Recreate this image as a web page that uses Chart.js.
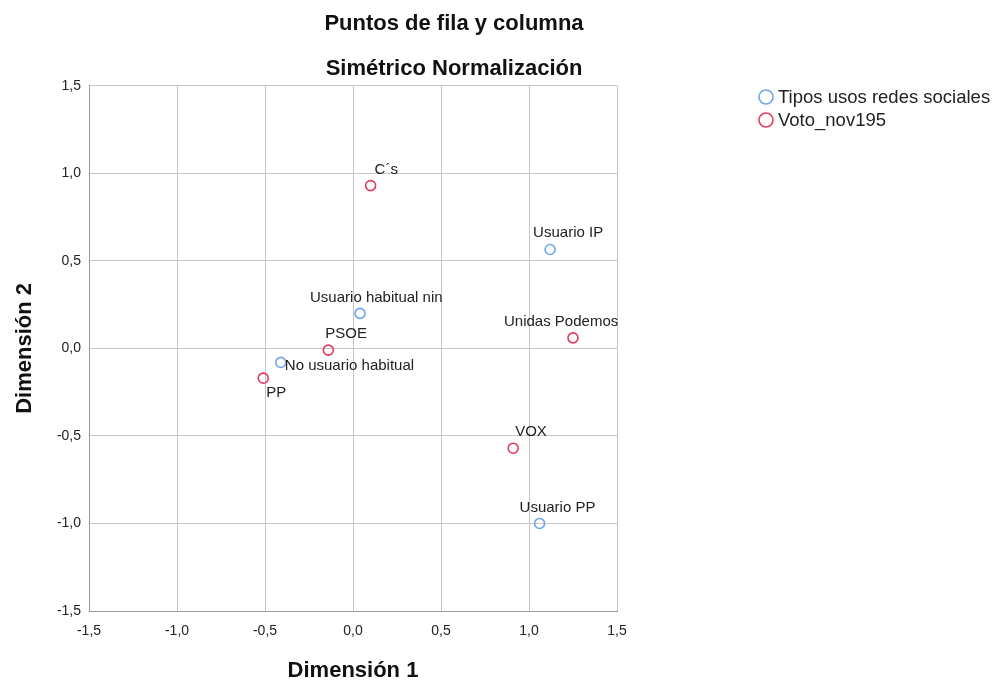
<!DOCTYPE html>
<html>
<head>
<meta charset="utf-8">
<title>Puntos de fila y columna</title>
<script src="https://cdn.jsdelivr.net/npm/chart.js@4.4.0/dist/chart.umd.min.js"></script>
<style>
  html, body { margin: 0; padding: 0; background: #fff; }
</style>
</head>
<body>
<canvas id="corrChart" width="998" height="681"></canvas>
<script>
// Tipos usos redes sociales (row points)
const usoLabels = ['Usuario IP', 'Usuario habitual nin', 'No usuario habitual', 'Usuario PP'];
const usoDim1 = [1.12, 0.04, -0.41, 1.06];
const usoDim2 = [0.565, 0.20, -0.08, -1.0];

// Voto_nov195 (column points)
const votoLabels = ['C´s', 'PSOE', 'PP', 'Unidas Podemos', 'VOX'];
const votoDim1 = [0.10, -0.14, -0.51, 1.25, 0.91];
const votoDim2 = [0.93, -0.01, -0.17, 0.06, -0.57];

const axisTicks = [-1.5, -1.0, -0.5, 0.0, 0.5, 1.0, 1.5];

// where each point label sits, relative to its marker (left edge, middle)
const usoLabelShift = [[-17, -17], [-50, -16], [4, 3], [-20, -16]];
const votoLabelShift = [[4, -16], [-3, -16], [3, 15], [-69, -16], [2, -16]];

const blue = '#6ea6e8';
const red = '#e23a5f';
const fontFamily = "'Liberation Sans', Arial, sans-serif";

Chart.defaults.font.family = fontFamily;
Chart.defaults.color = '#222';

function fmt(v) {
  return Number(v).toFixed(1).replace('.', ',');
}

function toPoints(xs, ys) {
  return xs.map((x, i) => ({ x: x, y: ys[i] }));
}

// point labels next to the markers
const pointLabels = {
  id: 'pointLabels',
  afterDatasetsDraw(chart) {
    const ctx = chart.ctx;
    ctx.save();
    ctx.font = '15px ' + fontFamily;
    ctx.fillStyle = '#222';
    ctx.textAlign = 'left';
    ctx.textBaseline = 'middle';
    chart.data.datasets.forEach((ds, di) => {
      const meta = chart.getDatasetMeta(di);
      meta.data.forEach((pt, i) => {
        const shift = ds.labelShift[i];
        ctx.fillText(ds.names[i], pt.x + shift[0], pt.y + shift[1]);
      });
    });
    ctx.restore();
  }
};

// legend in the upper right corner
const cornerLegend = {
  id: 'cornerLegend',
  afterDraw(chart) {
    const ctx = chart.ctx;
    ctx.save();
    ctx.font = '18.5px ' + fontFamily;
    ctx.textAlign = 'left';
    ctx.textBaseline = 'middle';
    chart.data.datasets.forEach((ds, di) => {
      const y = 97 + di * 23;
      ctx.beginPath();
      ctx.arc(766, y, 7, 0, Math.PI * 2);
      ctx.strokeStyle = ds.borderColor;
      ctx.lineWidth = 1.6;
      ctx.stroke();
      ctx.fillStyle = '#222';
      ctx.fillText(ds.label, 778, y + 1);
    });
    ctx.restore();
  }
};

const ctx = document.getElementById('corrChart').getContext('2d');
const corrChart = new Chart(ctx, {
  type: 'scatter',
  data: {
    datasets: [{
      label: 'Tipos usos redes sociales',
      data: toPoints(usoDim1, usoDim2),
      names: usoLabels,
      labelShift: usoLabelShift,
      borderColor: blue,
      backgroundColor: 'rgba(255,255,255,0)',
      pointRadius: 5,
      borderWidth: 1.6
    }, {
      label: 'Voto_nov195',
      data: toPoints(votoDim1, votoDim2),
      names: votoLabels,
      labelShift: votoLabelShift,
      borderColor: red,
      backgroundColor: 'rgba(255,255,255,0)',
      pointRadius: 5,
      borderWidth: 1.6
    }]
  },
  options: {
    responsive: false,
    devicePixelRatio: 1,
    animation: false,
    layout: { padding: { left: 0, right: 90, top: 0, bottom: 0 } },
    plugins: {
      legend: { display: false },
      tooltip: { enabled: false },
      title: {
        display: true,
        text: 'Puntos de fila y columna',
        color: '#111',
        font: { size: 22, weight: 'bold' },
        padding: { top: 11, bottom: 0 }
      },
      subtitle: {
        display: true,
        text: 'Simétrico Normalización',
        color: '#111',
        font: { size: 22, weight: 'bold' },
        padding: { top: 18, bottom: 4 }
      }
    },
    scales: {
      x: {
        type: 'linear',
        min: -1.5,
        max: 1.5,
        afterBuildTicks: s => { s.ticks = axisTicks.map(v => ({ value: v })); },
        afterFit: s => { s.height = 70; },
        ticks: { callback: v => fmt(v), font: { size: 14 }, color: '#222', padding: 12 },
        grid: { color: '#c6c6c6', lineWidth: 1, drawTicks: false },
        border: { color: '#9a9a9a', width: 1 },
        title: {
          display: true,
          text: 'Dimensión 1',
          color: '#111',
          font: { size: 22, weight: 'bold' },
          padding: { top: 0, bottom: -3 }
        }
      },
      y: {
        type: 'linear',
        min: -1.5,
        max: 1.5,
        afterBuildTicks: s => { s.ticks = axisTicks.map(v => ({ value: v })); },
        afterFit: s => { s.width = 89; },
        ticks: { callback: v => fmt(v), font: { size: 14 }, color: '#222', padding: 8 },
        grid: { color: '#c6c6c6', lineWidth: 1, drawTicks: false },
        border: { color: '#9a9a9a', width: 1 },
        title: {
          display: true,
          text: 'Dimensión 2',
          color: '#111',
          font: { size: 22, weight: 'bold' },
          padding: { top: 12, bottom: 0 }
        }
      },
      // empty space on the right, kept free for the legend
      yLegendSpace: {
        type: 'linear',
        position: 'right',
        display: true,
        afterFit: s => { s.width = 291; },
        ticks: { display: false },
        grid: { display: false },
        border: { display: false }
      }
    }
  },
  plugins: [pointLabels, cornerLegend]
});
</script>
</body>
</html>
